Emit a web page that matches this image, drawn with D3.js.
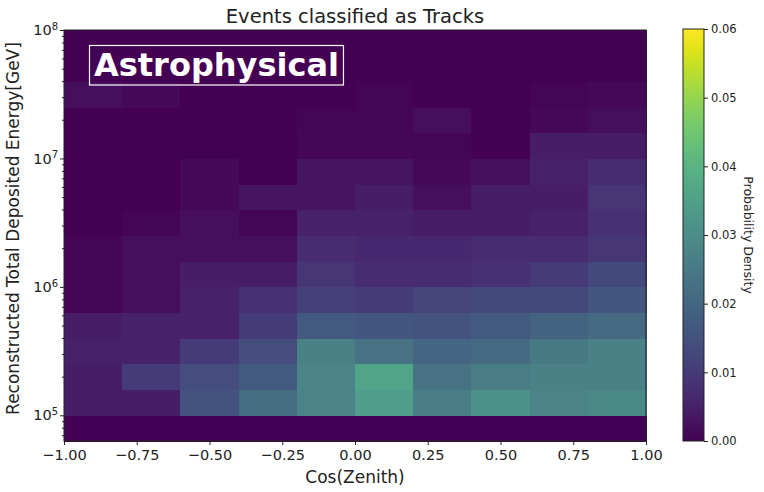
<!DOCTYPE html>
<html>
<head>
<meta charset="utf-8">
<script src="https://cdn.jsdelivr.net/npm/d3@7"></script>
<style>
  html, body { margin: 0; padding: 0; background: #fff; }
  svg { display: block; font-family: "DejaVu Sans", sans-serif; }
</style>
</head>
<body>
<svg id="chart" width="764" height="492"></svg>
<script>
// ---- data ----
const cosZenithEdges = [-1.0, -0.8, -0.6, -0.4, -0.2, 0.0, 0.2, 0.4, 0.6, 0.8, 1.0];
const logEnergyEdges = [4.8, 5.0, 5.2, 5.4, 5.6, 5.8, 6.0, 6.2, 6.4, 6.6, 6.8, 7.0, 7.2, 7.4, 7.6, 7.8, 8.0];
// probability density, one row per energy bin (lowest energy first), one value per cos(zenith) bin
const row_4_8 = [0.0003, 0.0003, 0.0003, 0.0003, 0.0003, 0.0003, 0.0003, 0.0003, 0.0003, 0.0003];
const row_5_0 = [0.004, 0.004, 0.015, 0.022, 0.028, 0.034, 0.026, 0.031, 0.028, 0.029];
const row_5_2 = [0.004, 0.010, 0.014, 0.017, 0.028, 0.036, 0.023, 0.026, 0.027, 0.027];
const row_5_4 = [0.005, 0.005, 0.010, 0.014, 0.027, 0.023, 0.020, 0.021, 0.025, 0.027];
const row_5_6 = [0.004, 0.005, 0.005, 0.010, 0.017, 0.016, 0.015, 0.017, 0.019, 0.021];
const row_5_8 = [0.0005, 0.002, 0.005, 0.008, 0.011, 0.010, 0.012, 0.013, 0.013, 0.016];
const row_6_0 = [0.0005, 0.002, 0.004, 0.004, 0.009, 0.007, 0.007, 0.008, 0.010, 0.013];
const row_6_2 = [0.0005, 0.002, 0.002, 0.002, 0.007, 0.006, 0.006, 0.007, 0.007, 0.009];
const row_6_4 = [0.0, 0.0005, 0.002, 0.0005, 0.005, 0.005, 0.004, 0.004, 0.005, 0.008];
const row_6_6 = [0.0, 0.0, 0.001, 0.003, 0.003, 0.004, 0.002, 0.004, 0.004, 0.009];
const row_6_8 = [0.0, 0.0, 0.001, 0.0, 0.003, 0.003, 0.001, 0.002, 0.005, 0.007];
const row_7_0 = [0.0, 0.0, 0.0, 0.0, 0.0008, 0.0008, 0.0005, 0.0, 0.004, 0.004];
const row_7_2 = [0.0, 0.0, 0.0, 0.0, 0.0005, 0.0005, 0.002, 0.0, 0.001, 0.002];
const row_7_4 = [0.002, 0.001, 0.0, 0.0, 0.0, 0.0005, 0.0, 0.0, 0.0005, 0.001];
const row_7_6 = [0, 0, 0, 0, 0, 0, 0, 0, 0, 0];
const row_7_8 = [0, 0, 0, 0, 0, 0, 0, 0, 0, 0];
const densityRows = [row_4_8, row_5_0, row_5_2, row_5_4, row_5_6, row_5_8, row_6_0, row_6_2,
                     row_6_4, row_6_6, row_6_8, row_7_0, row_7_2, row_7_4, row_7_6, row_7_8];
const xTicks = [-1.0, -0.75, -0.5, -0.25, 0.0, 0.25, 0.5, 0.75, 1.0];
const yMajorTicks = [1e5, 1e6, 1e7, 1e8];
const cbarTicks = [0.00, 0.01, 0.02, 0.03, 0.04, 0.05, 0.06];
const titleText = "Events classified as Tracks";
const xLabelText = "Cos(Zenith)";
const yLabelText = "Reconstructed Total Deposited Energy[GeV]";
const cbarLabelText = "Probability Density";
const annotationText = "Astrophysical";

// ---- layout ----
const svg = d3.select("#chart");
const plot = { left: 64, right: 646, top: 30, bottom: 441 };
const cbar = { left: 683, right: 704, top: 29, bottom: 441 };
const textColor = "#222";

const x = d3.scaleLinear().domain([-1, 1]).range([plot.left, plot.right]);
const y = d3.scaleLog().domain([Math.pow(10, 4.8), 1e8]).range([plot.bottom, plot.top]);
// viridis, muted in the middle of the range as in the reference picture
const muted = t => {
  const c = d3.hcl(d3.interpolateViridis(t));
  c.c *= 1 - 0.3 * Math.sin(Math.PI * Math.min(1, t * 1.1));
  return c.formatHex();
};
const color = d3.scaleSequential(muted).domain([0, 0.06]);
const cy = d3.scaleLinear().domain([0, 0.06]).range([cbar.bottom, cbar.top]);

// ---- cells ----
const cells = [];
densityRows.forEach((row, i) => {
  row.forEach((v, j) => {
    cells.push({
      x0: cosZenithEdges[j], x1: cosZenithEdges[j + 1],
      e0: Math.pow(10, logEnergyEdges[i]), e1: Math.pow(10, logEnergyEdges[i + 1]), v
    });
  });
});
svg.append("g").selectAll("rect").data(cells).join("rect")
  .attr("x", d => x(d.x0))
  .attr("y", d => y(d.e1))
  .attr("width", d => x(d.x1) - x(d.x0) + 0.5)
  .attr("height", d => y(d.e0) - y(d.e1) + 0.5)
  .attr("fill", d => color(d.v))
  .attr("shape-rendering", "crispEdges");

// ---- frame ----
svg.append("rect")
  .attr("x", plot.left).attr("y", plot.top)
  .attr("width", plot.right - plot.left).attr("height", plot.bottom - plot.top)
  .attr("fill", "none").attr("stroke", "#222").attr("stroke-width", 1);

// ---- x axis ----
const xAxis = d3.axisBottom(x).tickValues(xTicks).tickSize(4).tickPadding(5)
  .tickFormat(d => d3.format(".2f")(d).replace("-", "\u2212"));
const gx = svg.append("g").attr("transform", `translate(0,${plot.bottom})`).call(xAxis);
gx.select(".domain").remove();
gx.selectAll("line").attr("stroke", "#222");
gx.selectAll("text").attr("fill", textColor).style("font-size", "14.5px")
  .style("font-family", "DejaVu Sans");

// ---- y axis ----
const minorTicks = [];
for (let k = 4; k <= 7; k++) for (let m = 2; m <= 9; m++) {
  const v = m * Math.pow(10, k);
  if (v >= Math.pow(10, 4.8) && v <= 1e8) minorTicks.push(v);
}
const gyMinor = svg.append("g").attr("transform", `translate(${plot.left},0)`)
  .call(d3.axisLeft(y).tickValues(minorTicks).tickSize(2).tickFormat(""));
gyMinor.select(".domain").remove();
gyMinor.selectAll("line").attr("stroke", "#222");

const gy = svg.append("g").attr("transform", `translate(${plot.left},0)`)
  .call(d3.axisLeft(y).tickValues(yMajorTicks).tickSize(4).tickPadding(4).tickFormat(""));
gy.select(".domain").remove();
gy.selectAll("line").attr("stroke", "#222");
gy.selectAll(".tick").each(function(d) {
  const t = d3.select(this).select("text");
  t.attr("fill", textColor).style("font-size", "14.5px").style("font-family", "DejaVu Sans")
   .attr("x", -6).attr("dy", "0.32em").attr("text-anchor", "end");
  t.text(null);
  t.append("tspan").text("10");
  t.append("tspan").attr("dy", "-0.55em").style("font-size", "10px")
   .text(String(Math.round(Math.log10(d))));
});

// ---- labels ----
svg.append("text").attr("x", (plot.left + plot.right) / 2).attr("y", 23)
  .attr("text-anchor", "middle").attr("fill", textColor)
  .style("font-size", "19.5px").text(titleText);
svg.append("text").attr("x", (plot.left + plot.right) / 2).attr("y", 483)
  .attr("text-anchor", "middle").attr("fill", textColor)
  .style("font-size", "17px").text(xLabelText);
svg.append("text")
  .attr("transform", `translate(19,${(plot.top + plot.bottom) / 2 - 7}) rotate(-90)`)
  .attr("text-anchor", "middle").attr("fill", textColor)
  .style("font-size", "17px").text(yLabelText);

// ---- annotation ----
const ann = svg.append("g");
const annText = ann.append("text").attr("x", 94).attr("y", 76)
  .attr("fill", "#fff").style("font-size", "32px").style("font-weight", "bold")
  .text(annotationText);
const bb = annText.node().getBBox();
ann.insert("rect", "text")
  .attr("x", bb.x - 4.5).attr("y", 45.5)
  .attr("width", bb.width + 9).attr("height", 39.5)
  .attr("fill", "none").attr("stroke", "#fff").attr("stroke-width", 1.2);

// ---- colorbar ----
const defs = svg.append("defs");
const grad = defs.append("linearGradient").attr("id", "cbarGrad")
  .attr("x1", 0).attr("y1", 1).attr("x2", 0).attr("y2", 0);
d3.range(0, 1.0001, 0.05).forEach(t => {
  grad.append("stop").attr("offset", t).attr("stop-color", color(t * 0.06));
});
svg.append("rect")
  .attr("x", cbar.left).attr("y", cy(0.06))
  .attr("width", cbar.right - cbar.left).attr("height", cy(0) - cy(0.06))
  .attr("fill", "url(#cbarGrad)").attr("stroke", "#222").attr("stroke-width", 1);
const gc = svg.append("g").attr("transform", `translate(${cbar.right},0)`)
  .call(d3.axisRight(cy).tickValues(cbarTicks).tickSize(4).tickPadding(3)
        .tickFormat(d3.format(".2f")));
gc.select(".domain").remove();
gc.selectAll("line").attr("stroke", "#222");
gc.selectAll("text").attr("fill", textColor).style("font-size", "11.5px")
  .style("font-family", "DejaVu Sans");
svg.append("text")
  .attr("transform", `translate(744,${(cbar.top + cbar.bottom) / 2}) rotate(90)`)
  .attr("text-anchor", "middle").attr("fill", textColor)
  .style("font-size", "12.5px").text(cbarLabelText);
</script>
</body>
</html>
